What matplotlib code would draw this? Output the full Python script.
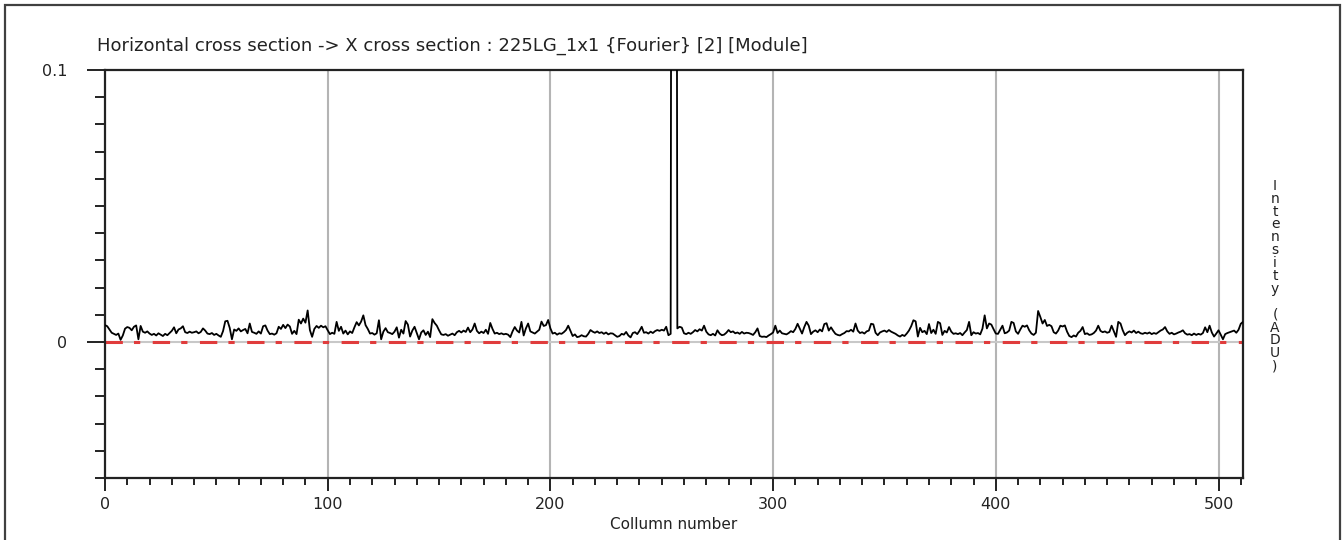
import numpy as np
import matplotlib
matplotlib.use("Agg")
import matplotlib.pyplot as plt
from matplotlib.ticker import MultipleLocator, FixedLocator
from matplotlib.patches import Rectangle

# Intensity values (in 1e-3 ADU) for columns 0..511
intensity_milli = [
    6.2, 5.8, 4.6, 3.4, 3.0, 2.6, 3.1, 0.8, 2.4, 4.9,
    5.5, 5.2, 4.3, 5.6, 6.1, 1.0, 5.9, 3.8, 3.4, 3.9,
    3.1, 2.6, 3.0, 2.4, 3.2, 2.7, 2.2, 3.0, 2.5, 3.3,
    4.1, 5.4, 3.2, 4.6, 5.0, 5.8, 3.6, 3.3, 3.8, 3.4,
    3.6, 3.9, 3.2, 3.7, 5.0, 4.2, 3.1, 2.9, 3.3, 2.6,
    3.0, 2.4, 1.9, 4.0, 7.6, 7.8, 5.2, 1.0, 4.6, 4.1,
    5.0, 3.9, 4.4, 4.8, 3.2, 6.8, 3.7, 3.4, 3.0, 3.9,
    3.1, 5.8, 6.1, 4.2, 2.9, 3.1, 2.7, 3.2, 5.6, 4.8,
    6.3, 5.1, 6.4, 5.7, 3.0, 4.1, 2.9, 8.2, 6.8, 8.6,
    7.1, 11.6, 4.4, 1.9, 4.8, 5.9, 5.2, 6.0, 5.4, 5.8,
    4.3, 2.9, 3.4, 3.0, 7.4, 4.1, 5.6, 3.1, 4.2, 2.8,
    3.9, 3.3, 5.4, 7.3, 6.1, 7.5, 9.8, 6.2, 4.8, 3.1,
    3.3, 2.7, 3.2, 8.0, 1.0, 3.8, 5.1, 3.6, 3.3, 2.9,
    3.8, 5.4, 1.6, 4.5, 3.1, 7.7, 6.4, 2.0, 4.2, 5.6,
    3.3, 1.0, 3.5, 4.3, 2.6, 3.8, 1.8, 8.4, 7.0, 6.0,
    4.3, 2.8, 2.6, 2.9, 2.3, 2.7, 3.1, 2.5, 3.6, 4.1,
    3.5, 4.2, 3.7, 5.3, 3.6, 4.6, 6.8, 4.1, 3.2, 3.8,
    3.3, 4.5, 3.0, 7.0, 4.8, 3.1, 3.4, 2.9, 3.2, 2.8,
    3.0, 2.7, 1.8, 3.9, 5.5, 4.2, 3.5, 7.4, 2.4, 5.0,
    6.8, 3.9, 3.5, 3.1, 3.8, 4.5, 7.5, 5.9, 6.2, 8.1,
    5.0, 3.1, 3.4, 2.7, 3.2, 3.0, 3.6, 4.4, 6.0, 4.1,
    2.2, 2.8, 1.8, 2.0, 2.5, 2.1, 2.0, 3.0, 4.4, 3.8,
    3.4, 3.9, 3.3, 3.6, 3.0, 3.5, 2.8, 3.2, 3.1, 2.5,
    1.9, 2.2, 3.0, 2.7, 3.7, 2.4, 1.7, 3.3, 3.6, 2.9,
    4.1, 5.6, 3.4, 3.6, 3.1, 3.8, 3.3, 4.0, 4.4, 4.1,
    4.5, 4.2, 5.6, 2.5, 3.0, 600.0, 600.0, 5.0, 5.6, 5.3,
    3.2, 2.9, 3.4, 3.0, 3.6, 4.4, 3.9, 4.7, 4.2, 6.0,
    3.8, 2.8, 2.5, 3.0, 2.4, 4.3, 3.1, 2.5, 2.7, 3.4,
    4.4, 3.6, 3.9, 3.2, 3.5, 3.0, 3.7, 3.1, 3.4, 3.3,
    3.0, 2.6, 3.6, 5.0, 2.2, 1.9, 2.0, 1.8, 2.4, 2.9,
    3.5, 6.0, 3.3, 4.2, 3.2, 3.0, 2.8, 3.3, 4.0, 3.6,
    4.8, 6.7, 4.9, 3.1, 5.5, 7.4, 6.0, 2.9, 3.8, 4.3,
    3.6, 4.6, 3.9, 6.6, 6.9, 4.2, 5.4, 4.1, 3.0, 2.6,
    2.4, 2.9, 3.3, 4.0, 3.9, 4.5, 3.8, 6.8, 4.2, 3.3,
    3.6, 3.1, 3.9, 4.2, 6.7, 6.5, 3.4, 2.5, 3.5, 3.9,
    4.2, 3.7, 4.4, 3.8, 3.4, 3.0, 2.4, 2.0, 2.6, 2.2,
    3.1, 4.2, 5.8, 8.0, 7.6, 2.0, 5.2, 3.6, 4.1, 2.9,
    6.6, 3.3, 4.5, 3.0, 7.4, 6.9, 2.6, 4.1, 3.5, 5.5,
    3.8, 3.0, 3.2, 2.9, 3.3, 2.5, 3.5, 4.4, 7.4, 2.5,
    3.6, 3.1, 3.3, 2.8, 4.9, 9.8, 5.0, 6.8, 6.4, 4.7,
    3.1, 3.0, 4.5, 6.0, 3.2, 3.5, 4.2, 7.4, 7.0, 3.9,
    3.0, 4.6, 6.0, 5.6, 6.1, 4.3, 3.1, 2.6, 3.4, 11.4,
    9.2, 6.8, 8.1, 5.9, 6.3, 5.8, 3.6, 3.1, 4.2, 6.0,
    5.7, 6.1, 3.8, 2.2, 1.8, 2.4, 2.0, 3.4, 4.1, 5.5,
    2.9, 3.2, 2.6, 2.8, 3.3, 4.2, 6.0, 4.1, 3.6, 3.9,
    3.4, 3.7, 6.0, 4.0, 1.9, 7.4, 6.8, 4.3, 2.5, 3.4,
    3.9, 3.5, 4.2, 3.3, 3.8, 3.2, 3.0, 3.4, 3.1, 3.5,
    2.9, 3.3, 3.0, 3.6, 4.2, 4.6, 5.5, 3.9, 3.0, 3.4,
    2.8, 3.1, 3.5, 3.8, 4.3, 3.2, 2.7, 2.9, 2.5, 3.1,
    2.6, 3.0, 2.7, 3.3, 5.4, 3.6, 6.0, 3.5, 2.0, 3.1,
    4.3, 2.7, 1.0, 2.9, 3.3, 3.6, 3.9, 4.2, 3.4, 4.5,
    6.7, 7.4,
]
columns = list(range(len(intensity_milli)))
x_major_ticks = [0, 100, 200, 300, 400, 500]
x_tick_labels = ["0", "100", "200", "300", "400", "500"]
y_major_ticks = [0.0, 0.1]
y_tick_labels = ["0", "0.1"]
title_text = "Horizontal cross section -> X cross section : 225LG_1x1 {Fourier} [2] [Module]"
xlabel_text = "Collumn number"
ylabel_text = "Intensity (ADU)"

plt.rcParams['font.family'] = ['DejaVu Sans']
plt.rcParams['lines.scale_dashes'] = False

W, H = 1344, 540
fig = plt.figure(figsize=(W / 100, H / 100), dpi=100)
fig.patch.set_facecolor('white')

# outer frame
fig.patches.append(Rectangle((5 / W, -0.01), (1340 - 5) / W, (H - 5) / H + 0.01,
                             transform=fig.transFigure, fill=False,
                             edgecolor='#404040', linewidth=1.6))

ax = fig.add_axes([105 / W, 1 - 478 / H, (1243 - 105) / W, (478 - 70) / H])

y = np.array(intensity_milli) * 1e-3

# grid lines
for xv in [100, 200, 300, 400, 500]:
    ax.axvline(xv, color='#b4b4b4', lw=1.5, zorder=1)
ax.axhline(0, color='#c8c8c8', lw=1.5, zorder=1)
ax.axhline(0, color='#e03c3c', lw=2.2, dashes=(12.5, 8.0, 4.5, 9.0), zorder=2)

ax.plot(columns, y, color='black', lw=1.3, zorder=3)

ax.set_xlim(0, 511)
ax.set_ylim(-0.05, 0.1)

ax.xaxis.set_major_locator(FixedLocator(x_major_ticks))
ax.set_xticklabels(x_tick_labels)
ax.xaxis.set_minor_locator(MultipleLocator(10))
ax.yaxis.set_major_locator(FixedLocator(y_major_ticks))
ax.set_yticklabels(y_tick_labels)
ax.yaxis.set_minor_locator(MultipleLocator(0.01))

ax.tick_params(axis='both', which='major', direction='out', length=9, width=1.4,
               labelsize=11.5, color='#222222', labelcolor='#222222')
ax.tick_params(axis='x', which='major', pad=5)
ax.tick_params(axis='y', which='major', pad=14, length=13)
ax.tick_params(axis='both', which='minor', direction='out', length=5, width=1.4,
               color='#222222')
ax.tick_params(axis='y', which='minor', length=7)

for s in ax.spines.values():
    s.set_linewidth(1.6)
    s.set_color('#222222')

ax.set_xlabel(xlabel_text, fontsize=11, color='#222222', labelpad=3)

fig.text(97 / W, 1 - 46 / H, title_text, fontsize=13, color='#222222',
         ha='left', va='center')

fig.text(1275 / W, 1 - 276 / H, "\n".join(list(ylabel_text)), fontsize=10,
         color='#222222', ha='center', va='center', linespacing=0.9,
         multialignment='center')

fig.savefig('out.png', dpi=100, facecolor='white')
